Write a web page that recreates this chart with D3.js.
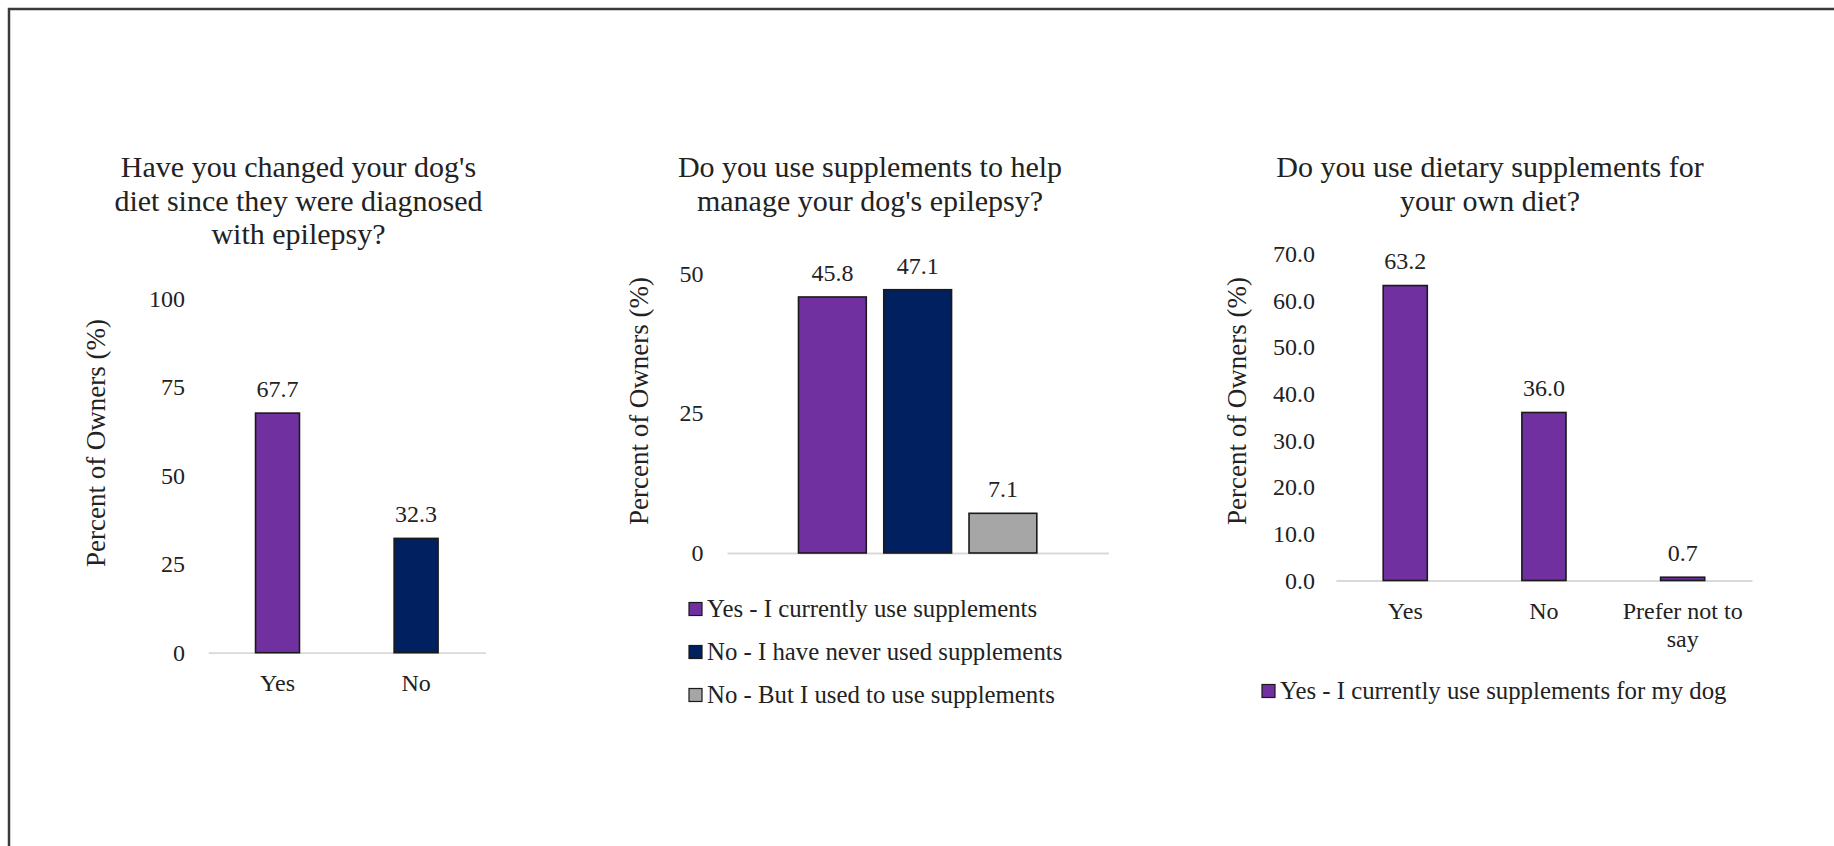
<!DOCTYPE html>
<html><head><meta charset="utf-8">
<script src="https://cdn.jsdelivr.net/npm/d3@7"></script>
<style>
body{margin:0;background:#fff;}
svg{display:block;}
</style>
</head><body>
<svg id="c" width="1834" height="846"></svg>
<script>
// ---------- DATA ----------
const yAxisLabel = "Percent of Owners (%)";

const dietTitle = ["Have you changed your dog's", "diet since they were diagnosed", "with epilepsy?"];
const dietCategories = ["Yes", "No"];
const dietValues = [67.7, 32.3];
const dietTicks = [0, 25, 50, 75, 100];

const dogSuppTitle = ["Do you use supplements to help", "manage your dog's epilepsy?"];
const dogSuppSeries = ["Yes - I currently use supplements", "No - I have never used supplements", "No - But I used to use supplements"];
const dogSuppValues = [45.8, 47.1, 7.1];
const dogSuppTicks = [0, 25, 50];

const ownSuppTitle = ["Do you use dietary supplements for", "your own diet?"];
const ownSuppCategories = ["Yes", "No", "Prefer not to say"];
const ownSuppValues = [63.2, 36.0, 0.7];
const ownSuppTicks = [0, 10, 20, 30, 40, 50, 60, 70];
const ownSuppLegend = ["Yes - I currently use supplements for my dog"];

// ---------- STYLE ----------
const PURPLE = "#7030A0", NAVY = "#002060", GRAY = "#A6A6A6";
const FONT = "Liberation Serif";
const FS = 24, FS_TITLE = 30, FS_YLAB = 27, FS_LEG = 24.8;
const TXT = "#222222";
const svg = d3.select("#c");

svg.append("rect").attr("x", 9).attr("y", 9).attr("width", 1840).attr("height", 860)
  .attr("fill", "none").attr("stroke", "#3a3a3a").attr("stroke-width", 2.5);

function txt(sel, size) { return sel.style("font-family", FONT).style("font-size", (size || FS) + "px").attr("fill", TXT); }

function title(lines, cx, y0) {
  const t = txt(svg.append("text").attr("text-anchor", "middle"), FS_TITLE);
  lines.forEach((l, i) => t.append("tspan").attr("x", cx).attr("y", y0 + i * 33.5).text(l));
}
function yAxis(y, ticks, fmt, rightX) {
  const g = svg.append("g").attr("transform", `translate(${rightX},0)`)
    .call(d3.axisLeft(y).tickValues(ticks).tickSize(0).tickPadding(0).tickFormat(fmt));
  g.select(".domain").remove();
  txt(g.selectAll("text"));
}
function xAxis(x, y0, showLabels) {
  const ax = d3.axisBottom(x).tickSize(0).tickSizeOuter(0).tickPadding(21);
  if (!showLabels) ax.tickValues([]);
  const g = svg.append("g").attr("transform", `translate(0,${y0})`).call(ax);
  g.select(".domain").attr("stroke", "#d9d9d9").attr("stroke-width", 1.8);
  txt(g.selectAll("text")).call(wrap, x.step() * 0.95);
}
function wrap(sel, width) {
  sel.each(function () {
    const t = d3.select(this), words = t.text().split(/\s+/), y = t.attr("y"), dy = t.attr("dy");
    t.text(null);
    let line = [], n = 0, ts = t.append("tspan").attr("x", 0).attr("y", y).attr("dy", dy);
    words.forEach(w => {
      line.push(w); ts.text(line.join(" "));
      if (ts.node().getComputedTextLength() > width && line.length > 1) {
        line.pop(); ts.text(line.join(" ")); line = [w]; n++;
        ts = t.append("tspan").attr("x", 0).attr("y", y).attr("dy", (n * 1.2) + parseFloat(dy) + "em").text(w);
      }
    });
  });
}
function yLabel(bx, cy) {
  txt(svg.append("text").attr("transform", `translate(${bx},${cy}) rotate(-90)`)
    .attr("text-anchor", "middle"), FS_YLAB).text(yAxisLabel);
}
function bars(data, xf, wf, y, colorf, off) {
  const g = svg.append("g");
  g.selectAll("rect").data(data).join("rect")
    .attr("x", xf).attr("width", wf).attr("y", d => y(d.v)).attr("height", d => y(0) - y(d.v))
    .attr("fill", colorf).attr("stroke", "#1a1a1a").attr("stroke-width", 1.6);
  txt(g.selectAll("text").data(data).join("text")
    .attr("x", (d, i) => xf(d, i) + wf() / 2).attr("y", d => y(d.v) - off)
    .attr("text-anchor", "middle")).text(d => d3.format(".1f")(d.v));
}
function legend(items, colors, sqX, cy0, step) {
  items.forEach((s, i) => {
    const cy = cy0 + i * step;
    svg.append("rect").attr("x", sqX).attr("y", cy - 6.5).attr("width", 13).attr("height", 13)
      .attr("fill", colors[i]).attr("stroke", "#1a1a1a").attr("stroke-width", 1.2);
    txt(svg.append("text").attr("x", sqX + 18).attr("y", cy + 8), FS_LEG).text(s);
  });
}

// ---------- CHART 1 ----------
{
  const y = d3.scaleLinear().domain([0, 100]).range([652.7, 298.8]);
  const x = d3.scaleBand().domain(dietCategories).range([208.2, 485.4]).paddingInner(0.683).paddingOuter(0.3415);
  title(dietTitle, 298.5, 177);
  yAxis(y, dietTicks, d3.format("d"), 185);
  xAxis(x, y(0), true);
  const data = dietCategories.map((c, i) => ({ c, v: dietValues[i] }));
  bars(data, d => x(d.c), () => x.bandwidth(), y, (d, i) => [PURPLE, NAVY][i], 16);
  yLabel(105, 443);
}

// ---------- CHART 2 ----------
{
  const y = d3.scaleLinear().domain([0, 50]).range([553, 273.5]);
  const x0 = d3.scaleBand().domain(["all"]).range([727, 1108.3]).paddingInner(0.375).paddingOuter(0.1875);
  const x1 = d3.scaleBand().domain(dogSuppSeries).range([0, x0.bandwidth()]).paddingInner(0.205);
  title(dogSuppTitle, 870, 177);
  yAxis(y, dogSuppTicks, d3.format("d"), 703.5);
  xAxis(x0, y(0), false);
  const data = dogSuppSeries.map((s, i) => ({ c: s, v: dogSuppValues[i] }));
  const cols = [PURPLE, NAVY, GRAY];
  bars(data, d => x0("all") + x1(d.c), () => x1.bandwidth(), y, (d, i) => cols[i], 16);
  yLabel(648, 401);
  legend(dogSuppSeries, cols, 689, 609, 43);
}

// ---------- CHART 3 ----------
{
  const y = d3.scaleLinear().domain([0, 70]).range([580.5, 253.8]);
  const x = d3.scaleBand().domain(ownSuppCategories).range([1335.9, 1752]).paddingInner(0.682).paddingOuter(0.341);
  title(ownSuppTitle, 1490, 177);
  yAxis(y, ownSuppTicks, d3.format(".1f"), 1315);
  xAxis(x, y(0), true);
  const data = ownSuppCategories.map((c, i) => ({ c, v: ownSuppValues[i] }));
  bars(data, d => x(d.c), () => x.bandwidth(), y, () => PURPLE, 16.5);
  yLabel(1246, 401);
  legend(ownSuppLegend, [PURPLE], 1262, 691, 40);
}
</script>
</body></html>
